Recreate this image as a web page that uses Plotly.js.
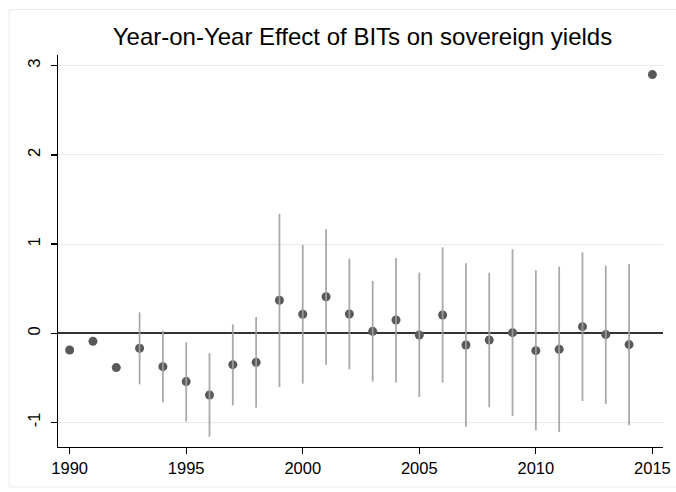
<!DOCTYPE html>
<html>
<head>
<meta charset="utf-8">
<script src="https://cdn.plot.ly/plotly-3.0.1.min.js"></script>
<style>
html,body{margin:0;padding:0;background:#fff;}
#chart{width:676px;height:492px;}
</style>
</head>
<body>
<div id="chart"></div>
<script>
// Data
var years = [1990,1991,1992,1993,1994,1995,1996,1997,1998,1999,2000,2001,2002,2003,2004,2005,2006,2007,2008,2009,2010,2011,2012,2013,2014,2015];
var coef = [-0.187,-0.090,-0.385,-0.168,-0.374,-0.542,-0.692,-0.352,-0.326,0.370,0.213,0.410,0.216,0.022,0.149,-0.019,0.205,-0.131,-0.075,0.007,-0.195,-0.180,0.074,-0.015,-0.127,2.900];
var ciLow = [null,null,null,-0.572,-0.774,-0.990,-1.159,-0.807,-0.834,-0.602,-0.565,-0.352,-0.404,-0.542,-0.553,-0.714,-0.553,-1.047,-0.830,-0.927,-1.087,-1.106,-0.759,-0.793,-1.032,null];
var ciHigh = [null,null,null,0.235,0.026,-0.101,-0.224,0.100,0.183,1.337,0.990,1.166,0.836,0.586,0.844,0.680,0.964,0.785,0.680,0.942,0.706,0.747,0.908,0.758,0.773,null];
var xTicks = [1990,1995,2000,2005,2010,2015];
var yTicks = [-1,0,1,2,3];
var titleText = "Year-on-Year Effect of BITs on sovereign yields";

var plusArr = coef.map(function(c,i){ return ciHigh[i] === null ? NaN : ciHigh[i] - c; });
var minusArr = coef.map(function(c,i){ return ciLow[i] === null ? NaN : c - ciLow[i]; });

var FONT = '"Liberation Sans", Arial, Helvetica, sans-serif';

var traces = [
  {
    x: years, y: coef, type: 'scatter', mode: 'markers',
    marker: {color: '#595959', size: 9, line: {width: 0}},
    hoverinfo: 'x+y', showlegend: false
  },
  {
    x: years, y: coef, type: 'scatter', mode: 'markers',
    marker: {color: 'rgba(0,0,0,0)', size: 1},
    error_y: {type: 'data', symmetric: false, array: plusArr, arrayminus: minusArr,
              color: 'rgba(160,160,160,0.9)', thickness: 1.8, width: 0},
    hoverinfo: 'skip', showlegend: false
  }
];

var L = 57.5, R = 12.5, T = 55, B = 45;
var pw = 676 - L - R, ph = 492 - T - B;

var layout = {
  width: 676, height: 492,
  margin: {l: L, r: R, t: T, b: B, pad: 0},
  paper_bgcolor: '#ffffff', plot_bgcolor: '#ffffff',
  font: {family: FONT, size: 16.5, color: '#000000'},
  title: {
    text: titleText,
    font: {family: FONT, size: 24, color: '#000000'},
    x: (362.5 - L) / pw, xref: 'paper', xanchor: 'center',
    y: 1 - 36.5 / 492, yref: 'container', yanchor: 'middle'
  },
  xaxis: {
    range: [1989.5, 2015.455],
    tickmode: 'array', tickvals: xTicks, ticktext: xTicks.map(String),
    ticks: 'outside', ticklen: 6, tickwidth: 1.2, tickcolor: '#000',
    showline: true, linecolor: '#000', linewidth: 1.2,
    showgrid: false, zeroline: false,
    tickfont: {family: FONT, size: 16.5, color: '#000'}
  },
  yaxis: {
    range: [-1.275, 3.12],
    tickmode: 'array', tickvals: yTicks, ticktext: yTicks.map(String),
    tickangle: -90,
    ticks: 'outside', ticklen: 6, tickwidth: 1.2, tickcolor: '#000',
    ticklabelstandoff: 4,
    showline: true, linecolor: '#000', linewidth: 1.2,
    showgrid: true, gridcolor: '#eaeaea', gridwidth: 1,
    zeroline: true, zerolinecolor: '#333333', zerolinewidth: 1.6,
    tickfont: {family: FONT, size: 16.5, color: '#000'}
  },
  shapes: [
    {type: 'rect', xref: 'paper', yref: 'paper',
     x0: (8.5 - L) / pw, x1: (690 - L) / pw,
     y0: (492 - B - 487) / ph, y1: (492 - B - 9.5) / ph,
     line: {color: '#ececec', width: 1}, fillcolor: 'rgba(0,0,0,0)', layer: 'below'}
  ]
};

Plotly.newPlot('chart', traces, layout, {displayModeBar: false, staticPlot: true});
</script>
</body>
</html>
